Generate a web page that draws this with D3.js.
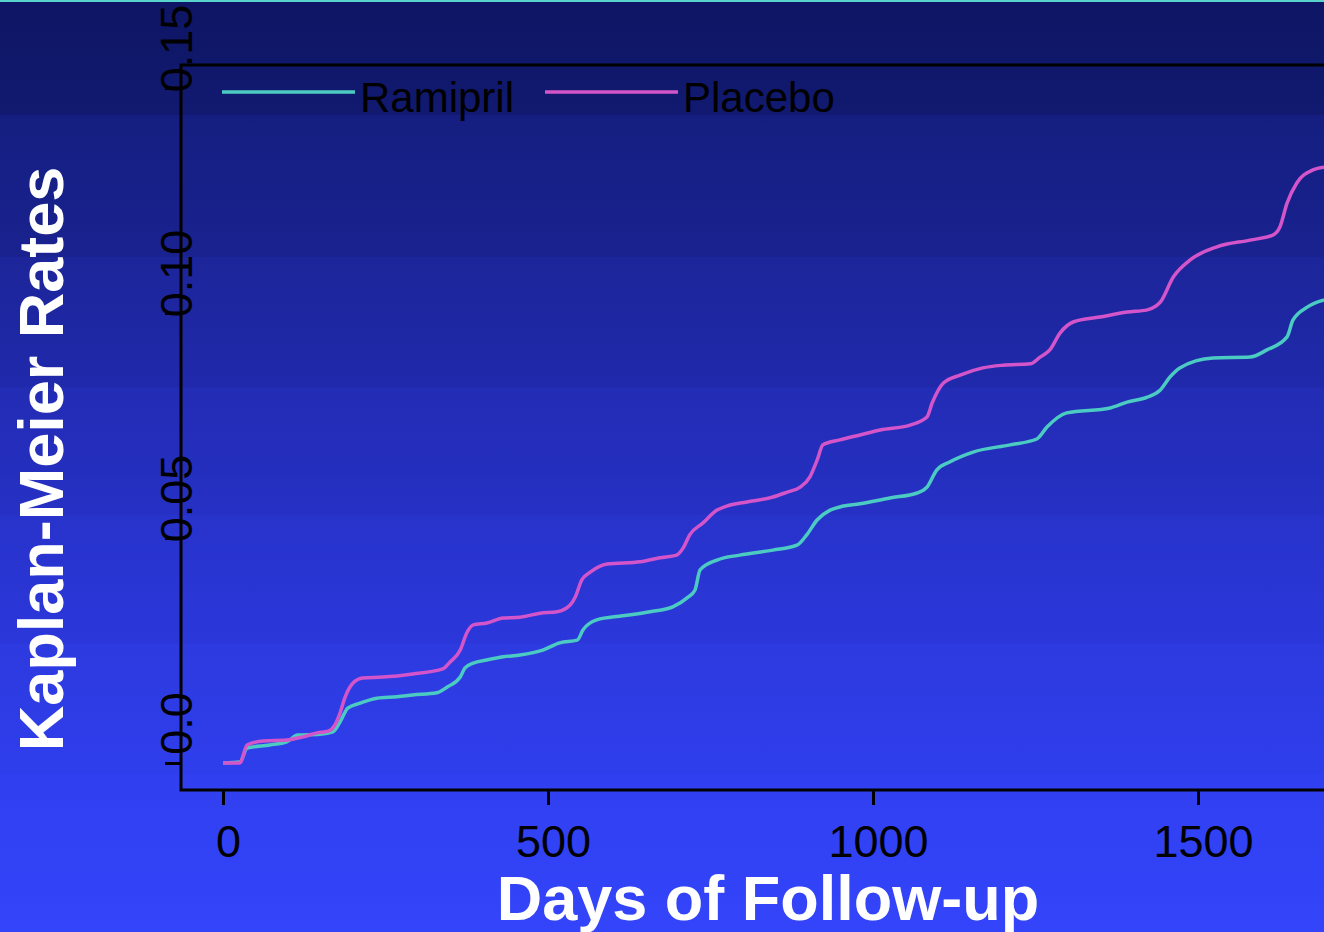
<!DOCTYPE html>
<html>
<head>
<meta charset="utf-8">
<script src="https://cdn.jsdelivr.net/npm/d3@7"></script>
<style>
  html, body { margin: 0; padding: 0; background: #2b36d8; }
  svg { display: block; }
</style>
</head>
<body>
<script>
var w = 1324;
var h = 932;

// Kaplan-Meier curves (days, cumulative rate)
var days = [0, 26, 37, 62, 98, 123, 145, 162, 172, 180, 188, 200, 215, 246, 292, 338, 349, 365, 375, 385,
    406, 431, 457, 488, 514, 534, 542, 552, 565, 591, 642, 672, 698, 708, 718, 738, 760, 775, 806, 846,
    868, 888, 903, 914, 923, 949, 980, 1011, 1057, 1083, 1091, 1108, 1134, 1169, 1200, 1242, 1257, 1272,
    1288, 1308, 1349, 1391, 1422, 1442, 1462, 1488, 1529, 1580, 1615, 1626, 1637, 1652, 1677, 1694];
var placebo = [0, 0, 0.0040, 0.0049, 0.0051, 0.0058, 0.0067, 0.0071, 0.0084, 0.0111, 0.0147, 0.0178, 0.0189, 0.0191, 0.0198, 0.0209, 0.0224, 0.0251, 0.0289, 0.0307,
    0.0311, 0.0322, 0.0324, 0.0333, 0.0336, 0.0351, 0.0369, 0.0407, 0.0424, 0.0442, 0.0447, 0.0456, 0.0462, 0.0478, 0.0507, 0.0533, 0.0562, 0.0571, 0.0580, 0.0591,
    0.0602, 0.0613, 0.0636, 0.0673, 0.0707, 0.0718, 0.0729, 0.0740, 0.0751, 0.0769, 0.0800, 0.0844, 0.0862, 0.0878, 0.0884, 0.0887, 0.0902, 0.0918,
    0.0956, 0.0980, 0.0991, 0.1002, 0.1007, 0.1024, 0.1080, 0.1118, 0.1147, 0.1162, 0.1173, 0.1191, 0.1244, 0.1289, 0.1318, 0.1324];

var ramiDays = [0, 26, 37, 72, 98, 115, 149, 169, 180, 192, 211, 237, 268, 292, 329, 345, 365, 372, 385, 406,
    431, 457, 492, 518, 545, 554, 575, 615, 657, 692, 714, 726, 734, 760, 795, 846, 883, 898, 914, 934,
    949, 980, 1026, 1068, 1083, 1098, 1118, 1154, 1211, 1252, 1268, 1298, 1365, 1391, 1422, 1442, 1457, 1472,
    1523, 1580, 1606, 1637, 1646, 1668, 1694];
var ramipril = [0, 0.0002, 0.0033, 0.0040, 0.0047, 0.0062, 0.0064, 0.0069, 0.0091, 0.0122, 0.0133, 0.0144, 0.0147, 0.0151, 0.0156, 0.0169, 0.0191, 0.0211, 0.0222, 0.0229,
    0.0236, 0.0240, 0.0251, 0.0267, 0.0273, 0.0296, 0.0318, 0.0327, 0.0336, 0.0347, 0.0367, 0.0384, 0.0429, 0.0451, 0.0462, 0.0473, 0.0484, 0.0507, 0.0540, 0.0562,
    0.0569, 0.0576, 0.0589, 0.0600, 0.0613, 0.0651, 0.0669, 0.0691, 0.0707, 0.0720, 0.0747, 0.0778, 0.0789, 0.0802, 0.0813, 0.0829, 0.0858, 0.0878,
    0.0900, 0.0902, 0.0918, 0.0947, 0.0984, 0.1013, 0.1029];

var xTicks = [0, 500, 1000, 1500];
var yTicks = [0, 0.05, 0.10, 0.15];
var yTickLabels = ["0.0", "0.05", "0.10", "0.15"];
var seriesNames = ["Ramipril", "Placebo"];
var seriesColors = ["#4ccbc2", "#d455c9"];

var svg = d3.select("body")
    .append("svg")
    .attr("width", w)
    .attr("height", h);

// stepped blue background
var defs = svg.append("defs");
var grad = defs.append("linearGradient")
    .attr("id", "bg")
    .attr("x1", 0).attr("y1", 0)
    .attr("x2", 0).attr("y2", 1);
var stops = [
    [0, "#0e1564"], [0.123, "#111a70"],
    [0.124, "#151e80"], [0.275, "#19228f"],
    [0.276, "#1c2599"], [0.415, "#2029ab"],
    [0.416, "#222cb4"], [0.552, "#2630c4"],
    [0.553, "#2833cb"], [0.69, "#2b37da"],
    [0.691, "#2d3adf"], [0.83, "#2f3eec"],
    [0.831, "#3040f0"], [1, "#3344fa"]
];
stops.forEach(function (s) {
    grad.append("stop").attr("offset", s[0]).attr("stop-color", s[1]);
});
svg.append("rect")
    .attr("width", w).attr("height", h)
    .attr("fill", "url(#bg)");
svg.append("rect")
    .attr("width", w).attr("height", 2)
    .attr("fill", "#58d4cc");

var xScale = d3.scaleLinear()
    .domain([0, 1500])
    .range([223, 1198]);

var yScale = d3.scaleLinear()
    .domain([0, 0.15])
    .range([763, 88]);

// frame (left, top, bottom)
var frame = svg.append("g")
    .attr("stroke", "#000")
    .attr("stroke-width", 3)
    .attr("fill", "none");
frame.append("path").attr("d", "M1330,65H181V790H1330");

// X axis
var xAxis = d3.axisBottom(xScale)
    .tickValues(xTicks)
    .tickSize(15)
    .tickPadding(0)
    .tickFormat(function (d) { return d; });

var gx = svg.append("g")
    .attr("transform", "translate(0,790)")
    .call(xAxis);
gx.select(".domain").remove();
gx.selectAll(".tick line").attr("stroke", "#000").attr("stroke-width", 3);
gx.selectAll(".tick text")
    .attr("fill", "#000")
    .attr("y", 67)
    .attr("dy", 0)
    .attr("x", 5)
    .style("font-family", "'Liberation Sans', Arial, sans-serif")
    .style("font-size", "45px");

// Y axis
var yAxis = d3.axisLeft(yScale)
    .tickValues(yTicks)
    .tickSize(16)
    .tickFormat(function (d, i) { return yTickLabels[i]; });

var gy = svg.append("g")
    .attr("transform", "translate(181,0)")
    .call(yAxis);
gy.select(".domain").remove();
gy.selectAll(".tick line").attr("stroke", "#000").attr("stroke-width", 3);
gy.selectAll(".tick text")
    .attr("fill", "#000")
    .attr("x", null)
    .attr("dy", null)
    .attr("text-anchor", "middle")
    .attr("transform", "translate(11,-40) rotate(-90)")
    .style("font-family", "'Liberation Sans', Arial, sans-serif")
    .style("font-size", "45px");

// curves
var line = d3.line()
    .curve(d3.curveMonotoneX)
    .x(function (d) { return xScale(d[0]); })
    .y(function (d) { return yScale(d[1]); });

var series = [
    d3.zip(ramiDays, ramipril),
    d3.zip(days, placebo)
];

svg.selectAll(".km")
    .data(series)
    .enter()
    .append("path")
    .attr("class", "km")
    .attr("d", line)
    .attr("fill", "none")
    .attr("stroke", function (d, i) { return seriesColors[i]; })
    .attr("stroke-width", 3.5)
    .attr("stroke-linejoin", "round");

// legend
var legendX = [222, 545];
var legend = svg.selectAll(".legend")
    .data(seriesNames)
    .enter()
    .append("g")
    .attr("class", "legend")
    .attr("transform", function (d, i) { return "translate(" + legendX[i] + ",0)"; });
legend.append("line")
    .attr("x1", 0).attr("x2", 133)
    .attr("y1", 92).attr("y2", 92)
    .attr("stroke", function (d, i) { return seriesColors[i]; })
    .attr("stroke-width", 3.5);
legend.append("text")
    .attr("x", 138)
    .attr("y", 112)
    .attr("fill", "#000")
    .style("font-family", "'Liberation Sans', Arial, sans-serif")
    .style("font-size", "42px")
    .text(function (d) { return d; });

// axis titles
svg.append("text")
    .attr("transform", "translate(63,459) rotate(-90)")
    .attr("text-anchor", "middle")
    .attr("fill", "#fff")
    .style("font-family", "'Liberation Sans', Arial, sans-serif")
    .style("font-weight", "bold")
    .style("font-size", "63px")
    .text("Kaplan-Meier Rates");

svg.append("text")
    .attr("x", 768)
    .attr("y", 920)
    .attr("text-anchor", "middle")
    .attr("fill", "#fff")
    .style("font-family", "'Liberation Sans', Arial, sans-serif")
    .style("font-weight", "bold")
    .style("font-size", "63px")
    .text("Days of Follow-up");
</script>
</body>
</html>
